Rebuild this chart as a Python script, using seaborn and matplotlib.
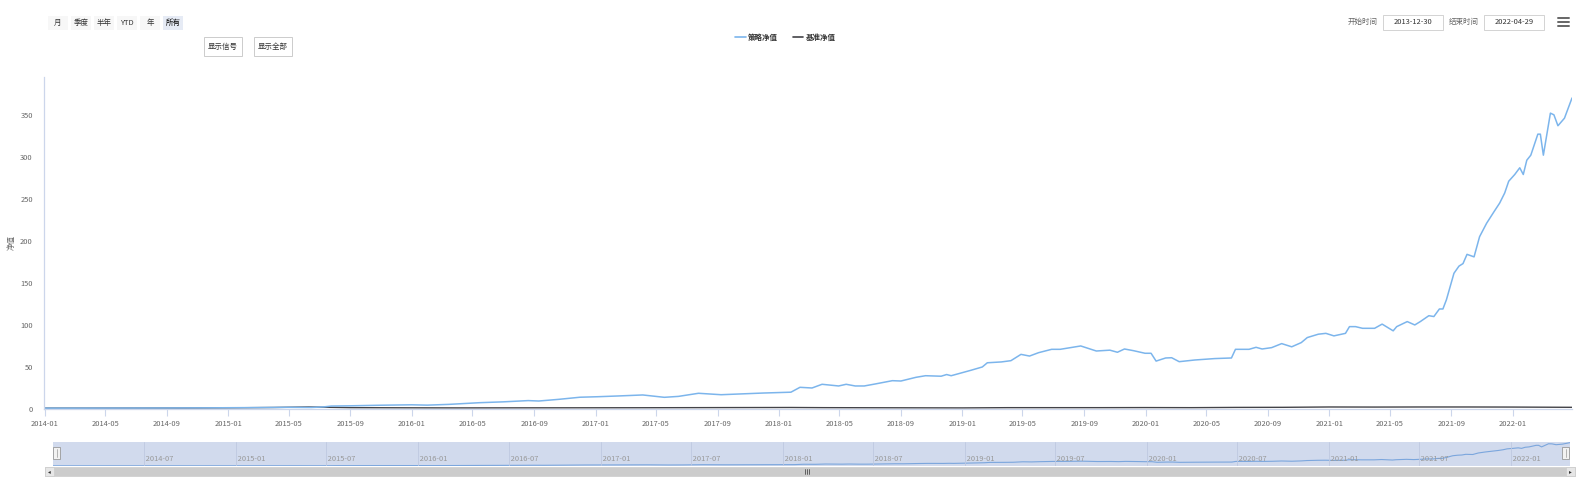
import matplotlib
matplotlib.use("Agg")
import matplotlib.pyplot as plt
import matplotlib.dates as mdates
from matplotlib.patches import Rectangle
from matplotlib.lines import Line2D
import seaborn as sns
import pandas as pd

# ---------------- data ----------------
strategy_dates = [
    "2013-12-30", "2014-03-01", "2014-06-01", "2014-09-01", "2014-12-01", "2015-03-01",
    "2015-05-01", "2015-06-15", "2015-07-10", "2015-07-25", "2015-09-01", "2015-11-01",
    "2016-01-01", "2016-02-01", "2016-03-15", "2016-05-15", "2016-07-01", "2016-08-20",
    "2016-09-10", "2016-10-20", "2016-12-01", "2017-01-05", "2017-02-15", "2017-04-05",
    "2017-05-18", "2017-06-15", "2017-07-25", "2017-09-08", "2017-10-20", "2017-12-01",
    "2018-01-25", "2018-02-12", "2018-03-08", "2018-03-28", "2018-04-30", "2018-05-15",
    "2018-06-02", "2018-06-20", "2018-07-12", "2018-08-15", "2018-09-01", "2018-10-01",
    "2018-10-20", "2018-11-20", "2018-12-01", "2018-12-10", "2019-01-18", "2019-02-10",
    "2019-02-20", "2019-03-20", "2019-04-08", "2019-04-28", "2019-05-15", "2019-06-02",
    "2019-06-28", "2019-07-15", "2019-08-25", "2019-09-25", "2019-10-22", "2019-11-06",
    "2019-11-20", "2019-12-08", "2019-12-31", "2020-01-12", "2020-01-22", "2020-02-10",
    "2020-02-22", "2020-03-08", "2020-04-08", "2020-05-18", "2020-06-20", "2020-06-28",
    "2020-07-10", "2020-07-25", "2020-08-08", "2020-08-20", "2020-09-08", "2020-09-28",
    "2020-10-18", "2020-11-06", "2020-11-18", "2020-12-10", "2020-12-25", "2021-01-10",
    "2021-02-02", "2021-02-10", "2021-02-22", "2021-03-08", "2021-04-01", "2021-04-16",
    "2021-05-08", "2021-05-15", "2021-06-05", "2021-06-20", "2021-07-01", "2021-07-18",
    "2021-07-28", "2021-08-08", "2021-08-15", "2021-08-22", "2021-09-06", "2021-09-16",
    "2021-09-24", "2021-10-02", "2021-10-16", "2021-10-27", "2021-11-10", "2021-11-25",
    "2021-12-06", "2021-12-16", "2021-12-24", "2022-01-05", "2022-01-15", "2022-01-22",
    "2022-01-29", "2022-02-06", "2022-02-20", "2022-02-25", "2022-03-03", "2022-03-17",
    "2022-03-24", "2022-04-01", "2022-04-14", "2022-04-29",
]
strategy_values = [
    1.0, 1.0, 1.1, 1.2, 1.4, 1.7,
    2.0, 1.8, 2.5, 3.5, 3.8, 4.5,
    5.0, 4.6, 5.5, 7.5, 8.5, 10.0,
    9.5, 11.5, 14.0, 14.6, 15.5, 16.7,
    13.9, 15.0, 18.7, 17.0, 18.0, 19.0,
    20.0, 25.8, 25.0, 29.4, 27.4, 29.4,
    27.4, 27.4, 29.8, 33.7, 33.3, 37.7,
    39.6, 39.0, 41.0, 39.6, 46.0, 50.0,
    55.0, 56.0, 57.5, 65.0, 63.0, 67.0,
    71.0, 71.0, 75.0, 69.0, 70.0, 67.5,
    71.4, 69.4, 66.3, 66.3, 57.0, 60.7,
    61.0, 56.3, 58.3, 60.0, 60.7, 71.0,
    71.0, 71.0, 73.4, 71.4, 73.0, 77.8,
    74.0, 79.0, 85.0, 89.0, 90.0, 87.0,
    90.0, 98.0, 98.0, 96.0, 96.0, 101.0,
    93.0, 98.0, 104.0, 100.0, 104.0, 111.0,
    110.0, 119.0, 119.0, 130.0, 161.5, 170.0,
    173.0, 184.0, 181.0, 205.0, 221.0, 235.0,
    245.0, 257.0, 271.0, 279.0, 287.0, 279.0,
    296.0, 302.0, 327.0, 327.0, 302.0, 352.0,
    350.0, 337.0, 346.0, 370.0,
]
bench_dates = [
    "2013-12-30", "2014-04-01", "2014-07-01", "2014-10-01", "2015-01-01", "2015-04-01",
    "2015-06-10", "2015-09-01", "2016-01-01", "2016-04-01", "2016-07-01", "2016-10-01",
    "2017-01-01", "2017-04-01", "2017-07-01", "2017-10-01", "2018-01-25", "2018-04-01",
    "2018-07-01", "2018-10-01", "2019-01-01", "2019-04-01", "2019-07-01", "2019-10-01",
    "2020-01-01", "2020-04-01", "2020-07-01", "2020-10-01", "2021-01-01", "2021-04-01",
    "2021-07-01", "2021-10-01", "2022-01-01", "2022-04-29",
]
bench_values = [
    1.0, 1.0, 1.05, 1.1, 1.4, 1.8,
    2.4, 1.6, 1.4, 1.3, 1.35, 1.4,
    1.45, 1.5, 1.6, 1.7, 1.8, 1.6,
    1.5, 1.4, 1.3, 1.6, 1.6, 1.6,
    1.7, 1.6, 1.9, 2.0, 2.4, 2.3,
    2.4, 2.4, 2.3, 2.0,
]
y_ticks = [0, 50, 100, 150, 200, 250, 300, 350]
range_buttons = ["月", "季度", "半年", "YTD", "年", "所有"]
series_names = ["策略净值", "基准净值"]
start_label = "2013-12-30"
end_label = "2022-04-29"

# ---------------- style ----------------
sns.set_theme(style="white")
plt.rcParams["font.family"] = ["Noto Sans CJK SC", "DejaVu Sans"]
FS = 5.4
BLUE = "#7cb5ec"
DARK = "#434348"
AX = "#ccd6eb"
LBL = "#666666"

W, H = 1581, 480
fig = plt.figure(figsize=(W / 100, H / 100), dpi=100)
fig.patch.set_facecolor("white")


def fx(px):
    return px / W


def fy(py):
    return 1 - py / H


strat = pd.DataFrame({"date": pd.to_datetime(strategy_dates), "value": strategy_values})
bench = pd.DataFrame({"date": pd.to_datetime(bench_dates), "value": bench_values})
x0 = pd.Timestamp("2013-12-30")
x1 = pd.Timestamp("2022-04-29")

# ---------------- main axes ----------------
L, R, T, B = 44, 1572, 77, 409
ax = fig.add_axes([fx(L), fy(B), fx(R - L), (B - T) / H])
sns.lineplot(data=bench, x="date", y="value", ax=ax, color=DARK, lw=1.0, legend=False)
sns.lineplot(data=strat, x="date", y="value", ax=ax, color=BLUE, lw=1.1, legend=False)
ax.set_xlim(x0, x1)
ax.set_ylim(0, 395)
ax.set_yticks(y_ticks)
ax.set_yticklabels([str(v) for v in y_ticks], fontsize=FS, color=LBL)
ax.xaxis.set_major_locator(mdates.MonthLocator(bymonth=[1, 5, 9]))
ax.xaxis.set_major_formatter(mdates.DateFormatter("%Y-%m"))
for lab in ax.get_xticklabels():
    lab.set_fontsize(FS)
    lab.set_color(LBL)
ax.tick_params(axis="x", length=5, width=0.8, color=AX, pad=3, bottom=True)
ax.tick_params(axis="y", length=0, pad=8)
ax.set_xlabel("")
ax.set_ylabel("")
for s in ["top", "right"]:
    ax.spines[s].set_visible(False)
ax.spines["left"].set_color(AX)
ax.spines["left"].set_linewidth(0.9)
ax.spines["bottom"].set_color(AX)
ax.spines["bottom"].set_linewidth(0.9)
ax.grid(False)
ax.set_facecolor("white")

fig.text(fx(12), fy(243), "净值", rotation=90, ha="center", va="center", fontsize=FS, color=LBL)

# ---------------- navigator ----------------
NL, NR, NT, NB = 53, 1570, 442, 466
nav = fig.add_axes([fx(NL), fy(NB), fx(NR - NL), (NB - NT) / H])
nav.set_facecolor("#d1daed")
sns.lineplot(data=strat, x="date", y="value", ax=nav, color="#7ba6dd", lw=0.8, legend=False)
nav.set_xlim(x0, x1)
nav.set_ylim(-2, 380)
nav.xaxis.set_major_locator(mdates.MonthLocator(bymonth=[1, 7]))
nav.xaxis.set_major_formatter(mdates.DateFormatter("%Y-%m"))
nav.tick_params(axis="x", length=0, pad=0)
nav.set_xlabel("")
nav.set_ylabel("")
nav.set_yticks([])
plt.setp(nav.get_xticklabels(), visible=False)
first_nav = pd.Timestamp("2014-06-01").toordinal()
for t in nav.get_xticks():
    d = mdates.num2date(t)
    if first_nav < d.toordinal() < x1.toordinal():
        nav.axvline(t, color="#bfc9e0", lw=0.6)
        nav.text(t, 0.12, " " + d.strftime("%Y-%m"), transform=nav.get_xaxis_transform(),
                 fontsize=FS, color="#999999", ha="left", va="bottom")
for s in nav.spines.values():
    s.set_visible(False)

# navigator handles
for hx in (NL, NR - 8):
    fig.patches.append(Rectangle((fx(hx), fy(459)), fx(7), 12 / H, transform=fig.transFigure,
                                 facecolor="#f2f2f2", edgecolor="#999999", lw=0.6))
    fig.lines.append(Line2D([fx(hx + 3.5)] * 2, [fy(457), fy(449)], transform=fig.transFigure,
                            color="#999999", lw=0.5))

# scrollbar
fig.patches.append(Rectangle((fx(45), fy(476)), fx(1575 - 45), 9 / H, transform=fig.transFigure,
                             facecolor="#cccccc", edgecolor="#cccccc", lw=0.5))
for bx in (45, 1566):
    fig.patches.append(Rectangle((fx(bx), fy(476)), fx(9), 9 / H, transform=fig.transFigure,
                                 facecolor="#e6e6e6", edgecolor="#cccccc", lw=0.5))
fig.text(fx(49.5), fy(471.5), "◂", fontsize=4, ha="center", va="center", color="#333333",
         family=["DejaVu Sans"])
fig.text(fx(1570.5), fy(471.5), "▸", fontsize=4, ha="center", va="center", color="#333333",
         family=["DejaVu Sans"])
for gx in (805, 807, 809):
    fig.lines.append(Line2D([fx(gx)] * 2, [fy(469), fy(474)], transform=fig.transFigure,
                            color="#333333", lw=0.5))

# ---------------- range selector ----------------
btn_x = [48, 71, 94, 117, 140, 163]
for i, (lbl, bx) in enumerate(zip(range_buttons, btn_x)):
    sel = lbl == "所有"
    fig.patches.append(Rectangle((fx(bx), fy(30)), fx(20), 14 / H, transform=fig.transFigure,
                                 facecolor="#e6ebf5" if sel else "#f7f7f7", edgecolor="none"))
    fig.text(fx(bx + 10), fy(23), lbl, fontsize=FS, ha="center", va="center",
             color="#000000" if sel else "#333333")

for lbl, (bx0, bx1) in zip(["显示信号", "显示全部"], [(204, 242), (254, 292)]):
    fig.patches.append(Rectangle((fx(bx0), fy(56)), fx(bx1 - bx0), 19 / H, transform=fig.transFigure,
                                 facecolor="white", edgecolor="#cccccc", lw=0.7))
    fig.text(fx((bx0 + bx1) / 2), fy(46.5), lbl, fontsize=FS, ha="center", va="center", color="#333333")

# ---------------- legend ----------------
fig.lines.append(Line2D([fx(735), fx(746)], [fy(37)] * 2, transform=fig.transFigure, color=BLUE, lw=1.2))
fig.text(fx(748), fy(37), series_names[0], fontsize=FS, ha="left", va="center", color="#333333",
         fontweight="bold")
fig.lines.append(Line2D([fx(793), fx(803)], [fy(37)] * 2, transform=fig.transFigure, color=DARK, lw=1.2))
fig.text(fx(806), fy(37), series_names[1], fontsize=FS, ha="left", va="center", color="#333333",
         fontweight="bold")

# ---------------- date inputs ----------------
fig.text(fx(1363), fy(22), "开始时间", fontsize=FS, ha="center", va="center", color="#666666")
fig.patches.append(Rectangle((fx(1383), fy(30)), fx(60), 15 / H, transform=fig.transFigure,
                             facecolor="white", edgecolor="#cccccc", lw=0.6))
fig.text(fx(1413), fy(22.5), start_label, fontsize=FS, ha="center", va="center", color="#333333")
fig.text(fx(1463.5), fy(22), "结束时间", fontsize=FS, ha="center", va="center", color="#666666")
fig.patches.append(Rectangle((fx(1484), fy(30)), fx(60), 15 / H, transform=fig.transFigure,
                             facecolor="white", edgecolor="#cccccc", lw=0.6))
fig.text(fx(1514), fy(22.5), end_label, fontsize=FS, ha="center", va="center", color="#333333")
for hy in (18, 22, 26):
    fig.lines.append(Line2D([fx(1558), fx(1569)], [fy(hy)] * 2, transform=fig.transFigure,
                            color="#666666", lw=1.4))

fig.savefig("out.png", dpi=100, facecolor="white")
